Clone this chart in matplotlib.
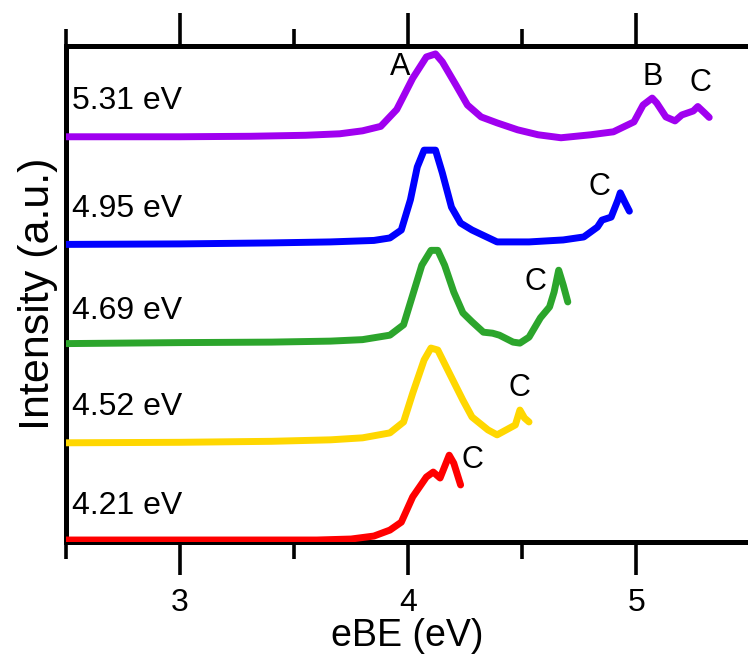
import matplotlib
matplotlib.use("Agg")
import matplotlib.pyplot as plt
from matplotlib.ticker import MultipleLocator

plt.rcParams['font.family'] = ['Liberation Sans', 'DejaVu Sans']

# Photon energies of the five spectra (bottom to top)
photon_labels = ["4.21 eV", "4.52 eV", "4.69 eV", "4.95 eV", "5.31 eV"]
colors = ["#ff0000", "#ffd700", "#2ca52c", "#0000ff", "#a000f0"]
offsets = [0.0, 2.0, 4.0, 6.0, 8.0]

# eBE (eV) and intensity (a.u., relative to each trace's offset)
x_421 = [2.50, 3.00, 3.40, 3.60, 3.75, 3.85, 3.92, 3.97, 4.02, 4.08, 4.11, 4.14, 4.18,
         4.20, 4.23]
y_421 = [0.04, 0.04, 0.04, 0.04, 0.06, 0.12, 0.24, 0.40, 0.91, 1.31, 1.41, 1.29, 1.75,
         1.59, 1.15]

x_452 = [2.50, 3.00, 3.40, 3.66, 3.80, 3.92, 3.98, 4.02, 4.07, 4.10, 4.13, 4.18, 4.24,
         4.28, 4.35, 4.39, 4.43, 4.47, 4.49, 4.51, 4.53]
y_452 = [0.00, 0.01, 0.03, 0.06, 0.10, 0.20, 0.42, 1.00, 1.67, 1.91, 1.87, 1.41, 0.86,
         0.52, 0.26, 0.16, 0.26, 0.36, 0.66, 0.50, 0.42]

x_469 = [2.50, 3.00, 3.40, 3.66, 3.80, 3.92, 3.98, 4.02, 4.06, 4.10, 4.13, 4.16, 4.20,
         4.24, 4.28, 4.33, 4.37, 4.40, 4.46, 4.49, 4.53, 4.58, 4.62, 4.64, 4.66, 4.68,
         4.70]
y_469 = [0.00, 0.02, 0.03, 0.05, 0.08, 0.17, 0.38, 0.98, 1.58, 1.88, 1.88, 1.58, 1.04,
         0.62, 0.44, 0.23, 0.21, 0.17, 0.03, 0.01, 0.13, 0.52, 0.74, 1.04, 1.48, 1.18,
         0.84]

x_495 = [2.50, 3.00, 3.40, 3.66, 3.85, 3.92, 3.97, 4.01, 4.04, 4.07, 4.12, 4.15, 4.19,
         4.23, 4.28, 4.39, 4.53, 4.68, 4.77, 4.83, 4.85, 4.89, 4.92, 4.93, 4.95, 4.97]
y_495 = [0.00, 0.01, 0.03, 0.05, 0.08, 0.13, 0.29, 0.90, 1.56, 1.90, 1.90, 1.44, 0.75,
         0.43, 0.29, 0.05, 0.05, 0.09, 0.15, 0.35, 0.49, 0.55, 0.90, 1.04, 0.85, 0.67]

x_531 = [2.50, 3.00, 3.31, 3.55, 3.70, 3.80, 3.88, 3.95, 4.02, 4.08, 4.12, 4.15, 4.21,
         4.26, 4.32, 4.39, 4.48, 4.57, 4.67, 4.80, 4.90, 4.99, 5.03, 5.07, 5.09, 5.13,
         5.17, 5.20, 5.25, 5.27, 5.30, 5.32]
y_531 = [0.17, 0.17, 0.18, 0.20, 0.23, 0.29, 0.38, 0.72, 1.35, 1.78, 1.84, 1.68, 1.21,
         0.81, 0.57, 0.45, 0.31, 0.21, 0.15, 0.21, 0.27, 0.47, 0.81, 0.95, 0.85, 0.57,
         0.49, 0.61, 0.69, 0.78, 0.65, 0.56]

spectra_x = [x_421, x_452, x_469, x_495, x_531]
spectra_y = [y_421, y_452, y_469, y_495, y_531]

# Peak annotations: (letter, eBE, intensity incl. offset)
peak_letters = ["A", "B", "C", "C", "C", "C", "C"]
peak_x = [3.965, 5.07, 5.28, 4.84, 4.56, 4.49, 4.28]
peak_y = [9.58, 9.38, 9.25, 7.16, 5.24, 3.11, 1.65]

label_y = [0.73, 2.72, 4.66, 6.71, 8.89]

fig = plt.figure(figsize=(7.48, 6.62), dpi=100)
ax = fig.add_axes([66 / 748, 120 / 662, 1 - 66 / 748, (542 - 46) / 662])

for xs, ys, off, c in zip(spectra_x, spectra_y, offsets, colors):
    ax.plot(xs, [v + off for v in ys], color=c, lw=5.0,
            solid_joinstyle="round", solid_capstyle="round", zorder=3)

for lab, ly in zip(photon_labels, label_y):
    ax.text(2.527, ly, lab, fontsize=23, va="center", ha="left", color="black")

for t, px, py in zip(peak_letters, peak_x, peak_y):
    ax.text(px, py, t, fontsize=22, va="center", ha="center", color="black")

ax.set_xlim(2.5, 5.49)
ax.set_ylim(0, 10)

ax.xaxis.set_major_locator(MultipleLocator(1))
ax.xaxis.set_minor_locator(MultipleLocator(0.5))
ax.set_yticks([])

for side in ("left", "bottom", "top"):
    ax.spines[side].set_linewidth(3.6)
ax.spines["right"].set_visible(False)

ax.tick_params(axis="x", which="major", direction="out", top=True, bottom=True,
               length=24, width=2.6, labelsize=23, pad=9)
ax.tick_params(axis="x", which="minor", direction="out", top=True, bottom=True,
               length=12, width=2.6)

ax.set_xlabel("eBE (eV)", fontsize=27, labelpad=0)
ax.set_ylabel("Intensity (a.u.)", fontsize=31, labelpad=6)

fig.savefig("out.png", dpi=100)
